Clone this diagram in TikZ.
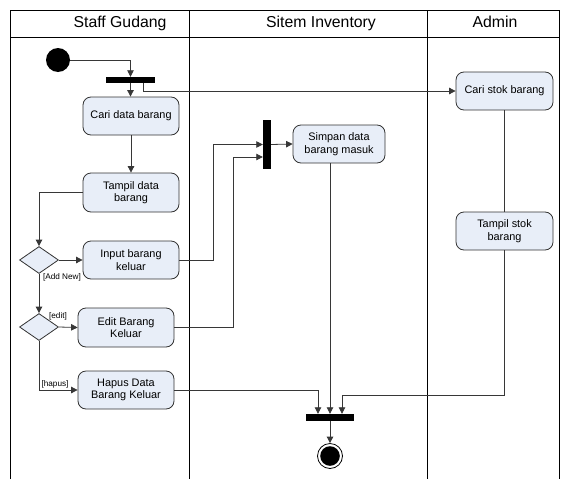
\documentclass[tikz,border=0pt]{standalone}
\usepackage{fontspec}
\setmainfont{Liberation Sans}
\usetikzlibrary{arrows.meta,shapes.geometric}
\definecolor{boxfill}{RGB}{232,238,248}
\definecolor{boxline}{RGB}{50,50,50}
\definecolor{conline}{RGB}{55,55,55}
\tikzset{
  x=1pt,y=-1pt,
  act/.style={draw=boxline,line width=0.8pt,fill=boxfill,rounded corners=8pt,
    minimum width=96pt,minimum height=38pt,inner sep=1pt,align=center,
    font=\fontsize{10.9}{12.5}\selectfont},
  dec/.style={diamond,draw=boxline,line width=0.8pt,fill=boxfill,aspect=1.45,
    minimum width=39pt,minimum height=27pt,inner sep=0pt},
  bar/.style={fill=black,inner sep=0pt},
  arr/.style={draw=conline,line width=0.8pt,-{Triangle[length=6.5pt,width=6.5pt]}},
  con/.style={draw=conline,line width=0.8pt},
  guard/.style={font=\fontsize{8.2}{9}\selectfont,inner sep=0pt},
  lane/.style={font=\fontsize{15.8}{18}\selectfont,inner sep=0pt},
  frame/.style={draw=black,line width=1pt}
}
\begin{document}
\begin{tikzpicture}
\useasboundingbox (0,0) rectangle (564,479);
% swimlanes
\draw[frame] (10,479) -- (10,10) -- (559,10) -- (559,479);
\draw[frame] (10,37) -- (559,37);
\draw[frame] (189,10) -- (189,479);
\draw[frame] (427,10) -- (427,479);
\node[lane] (h1) at (120,23.5) {Staff Gudang};
\node[lane] (h2) at (321,23.5) {Sitem Inventory};
\node[lane] (h3) at (495,22) {Admin};
% nodes
\node[circle,fill=black,minimum size=24pt,inner sep=0pt] (start) at (58,60) {};
\node[bar,minimum width=49pt,minimum height=6pt] (fork) at (130.5,80) {};
\node[act] (cari) at (131,116) {Cari data barang};
\node[act,minimum height=39pt] (tampil) at (131,192.5) {Tampil data\\barang};
\node[dec] (d1) at (39,260) {};
\node[act] (input) at (131,260) {Input barang\\keluar};
\node[dec] (d2) at (39,327) {};
\node[act,minimum height=39pt] (edit) at (126,327.5) {Edit Barang\\Keluar};
\node[act] (hapus) at (126,390) {Hapus Data\\Barang Keluar};
\node[bar,minimum width=8pt,minimum height=49pt] (joinv) at (267,144.5) {};
\node[act,minimum width=92pt] (simpan) at (339,144) {Simpan data\\barang masuk};
\node[act,minimum width=97pt] (caristok) at (504.5,91) {Cari stok barang};
\node[act,minimum width=97pt] (tampilstok) at (504.5,231) {Tampil stok\\barang};
\node[bar,minimum width=48pt,minimum height=7pt] (join) at (330,417.5) {};
\node[circle,draw=black,line width=0.8pt,minimum size=25pt,inner sep=0pt,
  path picture={\fill[black] (path picture bounding box.center) circle (9.8pt);}] (end) at (330,456) {};
% guards
\node[guard] (g1) at (62,277) {[Add New]};
\node[guard] (g2) at (58,316) {[edit]};
\node[guard] (g3) at (55,384) {[hapus]};
% connectors
\draw[arr] (start.east) -| (fork.north);
\draw[arr] (fork.south) -- (cari.north -| fork.south);
\draw[arr] ([xshift=12.5pt]fork.south) |- (caristok.west);
\draw[arr] (cari.south) -- (tampil.north);
\draw[arr] (tampil.west) -| (d1.north);
\draw[arr] (d1.east) -- (input.west);
\draw[arr] (d1.south) -- (d2.north);
\draw[arr] (d2.east) -- (edit.west);
\draw[arr] (d2.south) |- (hapus.west);
\draw[arr] (input.east) -- ++(34,0) |- (joinv.west);
\draw[arr] (edit.east) -- ++(59,0) |- ([yshift=-12.5pt]joinv.west);
\draw[arr] (joinv.east) -- (simpan.west);
\draw[arr] (simpan.south -| join.north) -- (join.north);
\draw[arr] (hapus.east) -| ([xshift=-12pt]join.north);
\draw[con] (caristok.south) -- (tampilstok.north);
\draw[arr] (tampilstok.south) -- ++(0,145) -| ([xshift=12pt]join.north);
\draw[arr] (join.south) -- (end.north);
\end{tikzpicture}
\end{document}
